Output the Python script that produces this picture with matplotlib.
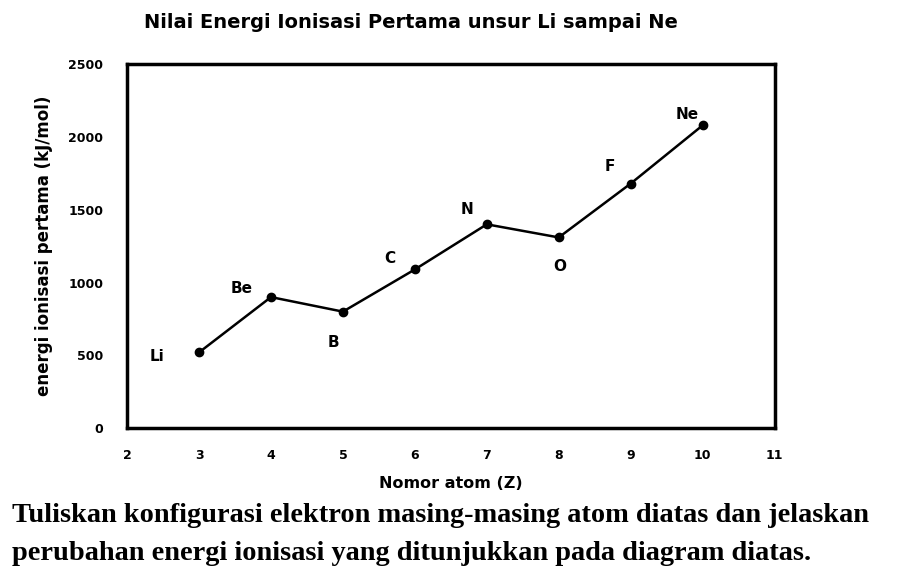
import matplotlib
matplotlib.use("Agg")
import matplotlib.pyplot as plt

Z = [3, 4, 5, 6, 7, 8, 9, 10]
energy = [520, 900, 800, 1090, 1400, 1310, 1680, 2080]
symbols = ["Li", "Be", "B", "C", "N", "O", "F", "Ne"]
# label offsets in points (dx, dy)
offsets = [(-30, -3), (-21, 6), (-7, -22), (-18, 8), (-14, 11), (1, -21), (-15, 12), (-11, 8)]
xticks = list(range(2, 12))
yticks = [0, 500, 1000, 1500, 2000, 2500]

plt.rcParams["font.family"] = ["DejaVu Sans"]
plt.rcParams["font.weight"] = "bold"

fig = plt.figure(figsize=(9.21, 5.84), dpi=100)
ax = fig.add_axes([0.138, 0.267, 0.703, 0.623])

ax.plot(Z, energy, color="black", lw=1.8, marker="o", ms=6)
for z, e, s, (dx, dy) in zip(Z, energy, symbols, offsets):
    ax.annotate(s, (z, e), xytext=(dx, dy), textcoords="offset points",
                ha="center", va="center", fontsize=11, fontweight="bold")

ax.set_xlim(2, 11)
ax.set_ylim(0, 2500)
ax.set_xticks(xticks)
ax.set_yticks(yticks)
ax.tick_params(axis="y", length=0, labelsize=9, pad=17)
ax.tick_params(axis="x", length=0, labelsize=9, pad=15)
for sp in ax.spines.values():
    sp.set_linewidth(2.5)

fig.text(0.446, 0.962, "Nilai Energi Ionisasi Pertama unsur Li sampai Ne",
         ha="center", va="center", fontsize=14, fontweight="bold")
ax.set_xlabel("Nomor atom (Z)", fontsize=11.5, fontweight="bold", labelpad=10)
ax.set_ylabel("energi ionisasi pertama (kJ/mol)", fontsize=12,
              fontweight="bold", labelpad=11)

fig.text(0.013, 0.117, "Tuliskan konfigurasi elektron masing-masing atom diatas dan jelaskan",
         family="Liberation Serif", fontsize=20.4, fontweight="bold", va="center")
fig.text(0.013, 0.052, "perubahan energi ionisasi yang ditunjukkan pada diagram diatas.",
         family="Liberation Serif", fontsize=20.4, fontweight="bold", va="center")

fig.savefig("out.png", dpi=100)
